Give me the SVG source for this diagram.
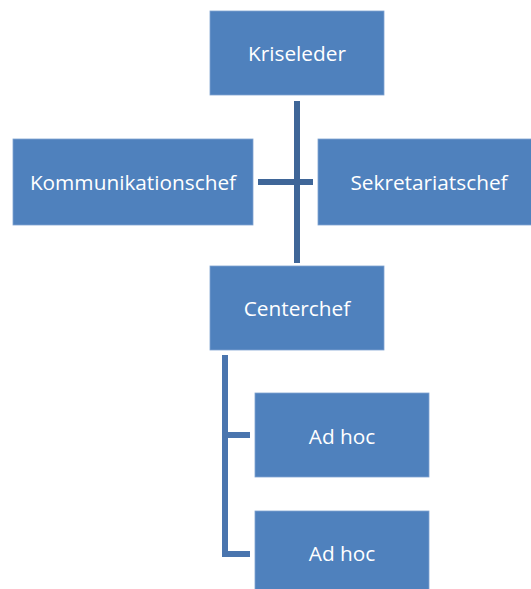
<svg xmlns="http://www.w3.org/2000/svg" width="531" height="589" viewBox="0 0 531 589">
  <style>
    .box { fill: #4F81BD; stroke: #7FA3D1; stroke-width: 0.8; }
    .lbl { fill: #FFFFFF; font-family: "Open Sans", "Liberation Sans", sans-serif; font-size: 20.8px; text-anchor: middle; dominant-baseline: central; }
    .top { stroke: #3F6698; stroke-width: 6; fill: none; }
    .sub { stroke: #4A75AE; stroke-width: 6; fill: none; }
  </style>
  <rect width="531" height="589" fill="#FFFFFF"/>
  <g id="connectors">
    <line class="top" x1="297" y1="101" x2="297" y2="263"/>
    <line class="top" x1="258" y1="182" x2="313" y2="182"/>
    <polyline class="sub" points="225,355 225,554 250,554"/>
    <line class="sub" x1="225" y1="435" x2="250" y2="435"/>
  </g>
  <g id="kriseleder">
    <rect class="box" x="210" y="11" width="174" height="84"/>
    <text class="lbl" x="297" y="53">Kriseleder</text>
  </g>
  <g id="kommunikationschef">
    <rect class="box" x="13" y="139" width="240" height="86"/>
    <text class="lbl" x="133" y="182">Kommunikationschef</text>
  </g>
  <g id="sekretariatschef">
    <rect class="box" x="318" y="139" width="215" height="86"/>
    <text class="lbl" x="429" y="182">Sekretariatschef</text>
  </g>
  <g id="centerchef">
    <rect class="box" x="210" y="266" width="174" height="84"/>
    <text class="lbl" x="297" y="308">Centerchef</text>
  </g>
  <g id="adhoc1">
    <rect class="box" x="255" y="393" width="174" height="84"/>
    <text class="lbl" x="342" y="436">Ad hoc</text>
  </g>
  <g id="adhoc2">
    <rect class="box" x="255" y="511" width="174" height="84"/>
    <text class="lbl" x="342" y="553">Ad hoc</text>
  </g>
</svg>
